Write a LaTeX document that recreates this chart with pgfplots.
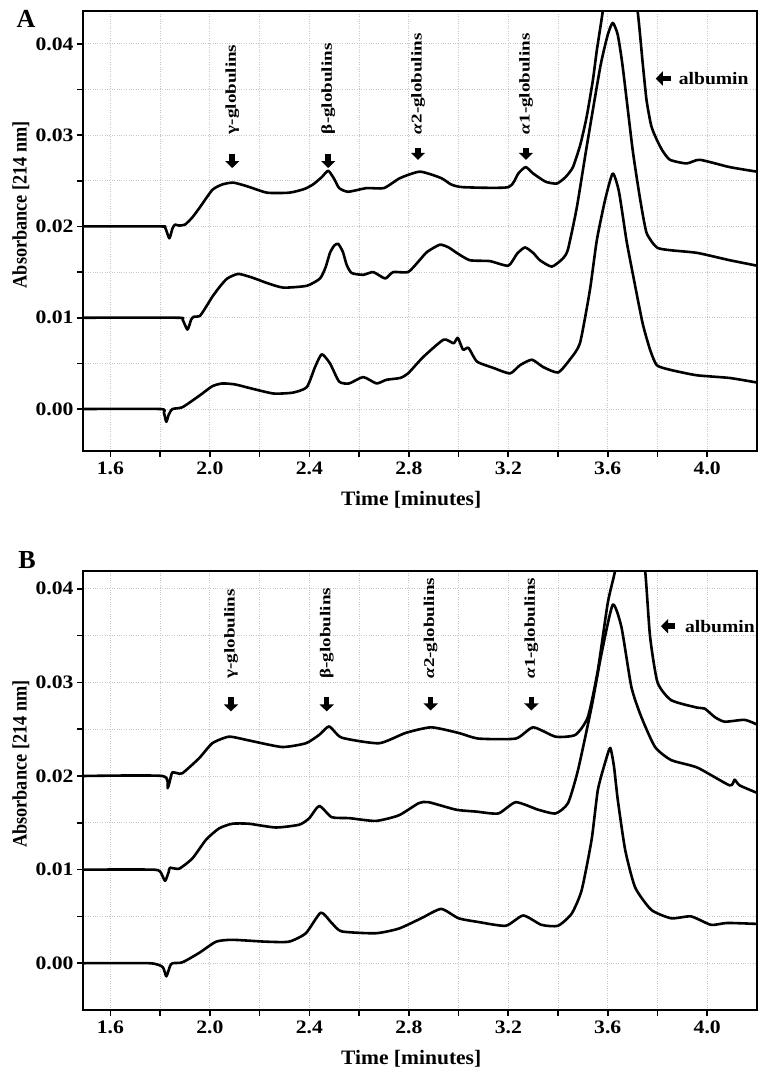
\documentclass[border=0pt]{standalone}
\usepackage{fontspec}
\usepackage{pgfplots}
\pgfplotsset{compat=1.18}
\usetikzlibrary{arrows.meta}
\setmainfont{Liberation Serif}
\newfontfamily\tickfont{Liberation Serif}[FakeStretch=1.14]
\newfontfamily\labfont{Liberation Serif}[FakeStretch=1.05]
\newfontfamily\ylabfont{Liberation Serif}[FakeStretch=0.89]
\newfontfamily\annfont{Liberation Serif}[FakeStretch=1.27]
\newfontfamily\albfont{Liberation Serif}[FakeStretch=1.12]

\pgfplotstableread{
x y
1.49 0.02
1.80 0.02
1.82 0.0199
1.837 0.0187
1.85 0.0198
1.86 0.0202
1.875 0.0201
1.90 0.0202
1.93 0.021
1.96 0.0221
2.01 0.024
2.05 0.0246
2.094 0.0248
2.15 0.0244
2.23 0.0237
2.32 0.0237
2.38 0.0241
2.415 0.0246
2.45 0.0254
2.476 0.0261
2.50 0.0252
2.52 0.0242
2.556 0.0238
2.63 0.0242
2.70 0.0242
2.765 0.0253
2.845 0.026
2.93 0.0253
2.97 0.0246
3.018 0.0243
3.20 0.0243
3.24 0.0258
3.27 0.0265
3.30 0.0258
3.35 0.0249
3.395 0.0247
3.43 0.0254
3.46 0.0265
3.49 0.029
3.515 0.032
3.54 0.036
3.556 0.0393
3.58 0.0436
3.61 0.050
3.64 0.053
3.68 0.051
3.72 0.0436
3.74 0.038
3.756 0.0338
3.775 0.031
3.797 0.0295
3.82 0.0283
3.85 0.0273
3.917 0.0269
3.97 0.0273
4.09 0.0265
4.2 0.026
}\Atop

\pgfplotstableread{
x y
1.49 0.01
1.87 0.01
1.89 0.0098
1.91 0.0087
1.925 0.0098
1.935 0.0101
1.96 0.0102
1.985 0.0112
2.01 0.0123
2.04 0.0134
2.07 0.0143
2.114 0.0148
2.17 0.0144
2.23 0.0138
2.295 0.0133
2.39 0.0135
2.443 0.0143
2.465 0.0155
2.483 0.0171
2.50 0.0179
2.516 0.0181
2.535 0.0172
2.55 0.0158
2.57 0.0149
2.617 0.0147
2.657 0.015
2.705 0.0143
2.737 0.015
2.797 0.015
2.84 0.0162
2.873 0.0172
2.925 0.018
2.96 0.0177
2.993 0.0171
3.045 0.0163
3.126 0.0162
3.2 0.0157
3.235 0.017
3.267 0.0177
3.30 0.0171
3.327 0.0163
3.375 0.0156
3.42 0.0165
3.44 0.0175
3.475 0.022
3.515 0.0287
3.57 0.0375
3.60 0.041
3.62 0.0423
3.64 0.041
3.66 0.0375
3.70 0.0284
3.73 0.023
3.756 0.0193
3.797 0.0177
3.85 0.0174
3.96 0.0171
4.09 0.0163
4.2 0.0157
}\Amid

\pgfplotstableread{
x y
1.49 0
1.80 0
1.815 -0.0004
1.825 -0.0014
1.835 -0.0006
1.85 0
1.89 0.0002
1.96 0.0015
2.01 0.0025
2.05 0.0028
2.10 0.0027
2.16 0.0023
2.255 0.0017
2.335 0.0018
2.39 0.0024
2.423 0.0046
2.45 0.006
2.483 0.005
2.52 0.003
2.56 0.0028
2.617 0.0035
2.67 0.0028
2.71 0.0032
2.765 0.0034
2.797 0.0039
2.858 0.0057
2.94 0.0076
2.98 0.0072
2.997 0.0078
3.018 0.0065
3.04 0.0067
3.074 0.0052
3.14 0.0045
3.207 0.0039
3.247 0.0048
3.295 0.0054
3.34 0.0046
3.40 0.004
3.447 0.0054
3.488 0.0072
3.528 0.013
3.556 0.0185
3.59 0.023
3.62 0.0258
3.645 0.0238
3.675 0.0185
3.70 0.0149
3.74 0.0094
3.77 0.0065
3.797 0.0048
3.85 0.0043
3.957 0.0037
4.09 0.0034
4.2 0.0029
}\Abot

\pgfplotstableread{
x y
1.49 0.02
1.81 0.02
1.83 0.0187
1.845 0.0201
1.85 0.0204
1.87 0.0203
1.89 0.0203
1.957 0.0219
2.01 0.0235
2.077 0.0242
2.157 0.0238
2.29 0.0231
2.386 0.0235
2.44 0.0244
2.48 0.0253
2.53 0.0241
2.68 0.0235
2.787 0.0246
2.89 0.0252
3.0 0.0246
3.08 0.024
3.23 0.024
3.30 0.0252
3.39 0.0242
3.47 0.0244
3.52 0.0263
3.56 0.0313
3.60 0.0385
3.63 0.042
3.66 0.047
3.69 0.05
3.72 0.047
3.75 0.042
3.77 0.0349
3.80 0.030
3.855 0.0281
3.96 0.0273
3.99 0.0272
4.03 0.0263
4.07 0.0258
4.15 0.026
4.2 0.0255
}\Btop

\pgfplotstableread{
x y
1.49 0.01
1.765 0.01
1.80 0.0098
1.82 0.0088
1.835 0.0098
1.84 0.0102
1.877 0.0101
1.93 0.0112
1.985 0.0132
2.037 0.0144
2.09 0.0149
2.157 0.0149
2.265 0.0145
2.36 0.0148
2.40 0.0155
2.44 0.0168
2.49 0.0156
2.56 0.0155
2.667 0.0152
2.76 0.0158
2.84 0.0171
2.88 0.0172
2.99 0.0164
3.07 0.0162
3.16 0.016
3.23 0.0172
3.32 0.0164
3.39 0.016
3.44 0.0171
3.48 0.0206
3.535 0.0274
3.575 0.0331
3.62 0.0383
3.655 0.0359
3.695 0.0295
3.735 0.0263
3.79 0.0231
3.855 0.0217
3.96 0.0209
4.09 0.019
4.11 0.0196
4.13 0.019
4.2 0.0182
}\Bmid

\pgfplotstableread{
x y
1.49 0
1.757 0
1.81 -0.0004
1.825 -0.0014
1.84 -0.0003
1.85 0
1.89 0.0001
1.957 0.0011
2.025 0.0023
2.09 0.0025
2.226 0.0023
2.318 0.0023
2.386 0.0032
2.446 0.0054
2.49 0.0043
2.53 0.0034
2.667 0.0032
2.76 0.0037
2.85 0.0048
2.93 0.0058
3.0 0.0048
3.08 0.0044
3.19 0.004
3.26 0.0051
3.333 0.0041
3.40 0.004
3.455 0.0053
3.495 0.0078
3.535 0.0132
3.56 0.0185
3.59 0.0215
3.61 0.023
3.625 0.021
3.64 0.0175
3.67 0.0121
3.71 0.0081
3.775 0.0057
3.855 0.0048
3.935 0.005
4.015 0.0041
4.08 0.0043
4.2 0.0042
}\Bbot

\pgfplotsset{
  trace/.style={black, solid, mark=none, line width=2.6pt, smooth, tension=0.35, line join=round},
  chromo/.style={
    scale only axis,
    width=674pt,
    xmin=1.49, xmax=4.2,
    scaled ticks=false,
    axis line style={line width=2.8pt},
    tick style={black, line width=1.6pt},
    tick align=outside,
    major tick length=6pt,
    xtick pos=left, ytick pos=left,
    xtick={1.6,1.8,2.0,2.2,2.4,2.6,2.8,3.0,3.2,3.4,3.6,3.8,4.0},
    xticklabels={1.6,,2.0,,2.4,,2.8,,3.2,,3.6,,4.0},
    ytick={0,0.005,0.01,0.015,0.02,0.025,0.03,0.035,0.04},
    yticklabels={0.00,,0.01,,0.02,,0.03,,0.04},
    xticklabel style={font=\tickfont\bfseries\fontsize{19}{21}\selectfont, yshift=-1pt},
    yticklabel style={font=\tickfont\bfseries\fontsize{19}{21}\selectfont},
    grid=major,
    major grid style={dotted, gray!45, line width=0.9pt},
    xlabel={Time [minutes]},
    xlabel style={font=\labfont\bfseries\fontsize{20.5}{22}\selectfont, at={(axis description cs:0.487,0)}, anchor=center, yshift=-49pt},
    ylabel={Absorbance [214 nm]},
    ylabel style={font=\ylabfont\bfseries\fontsize{20.5}{22}\selectfont, at={(axis description cs:-0.092,0.56)}, anchor=center, rotate=0},
    clip=true,
  },
}

\newcommand{\darrow}[3]{\draw[black, line width=5.5pt, -{Triangle[width=14pt,length=7pt]}] (axis cs:#1,#2) -- (axis cs:#1,#3);}
\newcommand{\glab}[3]{\node[rotate=90, anchor=west, inner sep=0pt, font=\annfont\bfseries\fontsize{15}{17}\selectfont] at (axis cs:#1,#2) {#3};}

\begin{document}
\begin{tikzpicture}
\useasboundingbox (0,0) rectangle (766pt,-1073pt);
\node[font=\bfseries\fontsize{26}{28}\selectfont, inner sep=0pt] at (26pt,-19pt) {A};
\node[font=\bfseries\fontsize{26}{28}\selectfont, inner sep=0pt] at (27pt,-560pt) {B};

\begin{axis}[chromo, at={(83pt,-11pt)}, anchor=north west, height=440pt,
  ymin=-0.0046, ymax=0.0436]
\addplot[trace] table {\Atop};
\addplot[trace] table {\Amid};
\addplot[trace] table {\Abot};
\glab{2.09}{0.0301}{γ-globulins}
\glab{2.476}{0.0301}{β-globulins}
\glab{2.837}{0.0301}{{\itshape α}2-globulins}
\glab{3.271}{0.0301}{{\itshape α}1-globulins}
\darrow{2.09}{0.0279}{0.0264}
\darrow{2.476}{0.0279}{0.0264}
\darrow{2.837}{0.0286}{0.0273}
\darrow{3.271}{0.0286}{0.0273}
\draw[black, line width=5.5pt, -{Triangle[width=14pt,length=7pt]}] (axis cs:3.855,0.0362) -- (axis cs:3.793,0.0362);
\node[anchor=west, inner sep=0pt, font=\albfont\bfseries\fontsize{17.5}{19}\selectfont] at (axis cs:3.885,0.0362) {albumin};
\end{axis}

\begin{axis}[chromo, at={(83pt,-571pt)}, anchor=north west, height=439pt,
  ymin=-0.005, ymax=0.0419]
\addplot[trace] table {\Btop};
\addplot[trace] table {\Bmid};
\addplot[trace] table {\Bbot};
\glab{2.085}{0.0304}{γ-globulins}
\glab{2.47}{0.0304}{β-globulins}
\glab{2.888}{0.0304}{{\itshape α}2-globulins}
\glab{3.293}{0.0304}{{\itshape α}1-globulins}
\darrow{2.085}{0.0284}{0.0269}
\darrow{2.47}{0.0284}{0.0269}
\darrow{2.888}{0.0284}{0.0270}
\darrow{3.293}{0.0284}{0.0270}
\draw[black, line width=5.5pt, -{Triangle[width=14pt,length=7pt]}] (axis cs:3.870,0.036) -- (axis cs:3.814,0.036);
\node[anchor=west, inner sep=0pt, font=\albfont\bfseries\fontsize{17.5}{19}\selectfont] at (axis cs:3.910,0.036) {albumin};
\end{axis}
\end{tikzpicture}
\end{document}
